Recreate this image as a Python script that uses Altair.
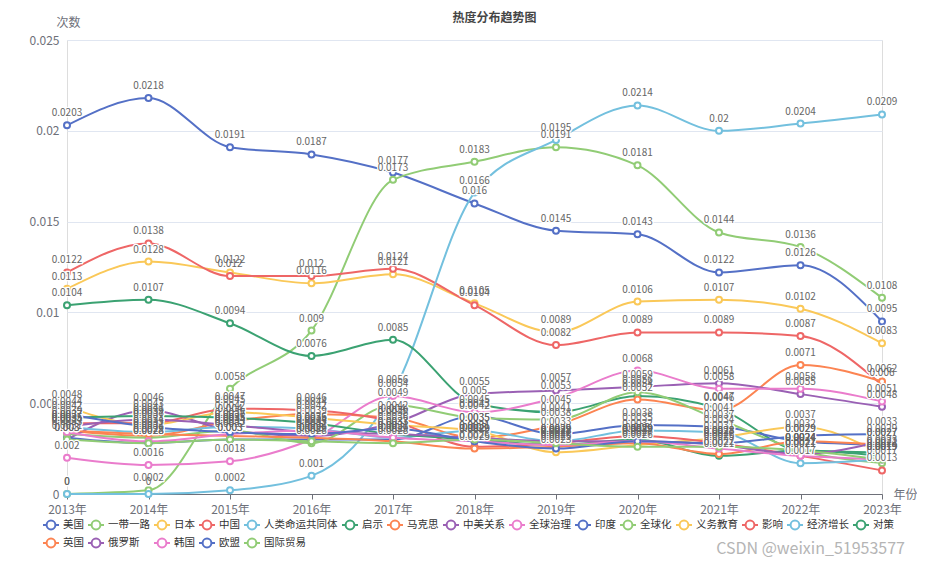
import altair as alt
import pandas as pd

FONT = "Noto Sans CJK SC"

years = ["2013年", "2014年", "2015年", "2016年", "2017年", "2018年",
         "2019年", "2020年", "2021年", "2022年", "2023年"]

series_names = ["美国", "一带一路", "日本", "中国", "人类命运共同体", "启示", "马克思",
                "中美关系", "全球治理", "印度", "全球化", "义务教育", "影响", "经济增长",
                "对策", "英国", "俄罗斯", "韩国", "欧盟", "国际贸易"]

palette = ["#5470c6", "#91cc75", "#fac858", "#ee6666", "#73c0de",
           "#3ba272", "#fc8452", "#9a60b4", "#ea7ccc"]
colors = [palette[i % len(palette)] for i in range(len(series_names))]

usa        = [0.0203, 0.0218, 0.0191, 0.0187, 0.0177, 0.0160, 0.0145, 0.0143, 0.0122, 0.0126, 0.0095]
belt_road  = [0.0, 0.0002, 0.0058, 0.0090, 0.0173, 0.0183, 0.0191, 0.0181, 0.0144, 0.0136, 0.0108]
japan      = [0.0113, 0.0128, 0.0122, 0.0116, 0.0121, 0.0105, 0.0089, 0.0106, 0.0107, 0.0102, 0.0083]
china      = [0.0122, 0.0138, 0.0120, 0.0120, 0.0124, 0.0104, 0.0082, 0.0089, 0.0089, 0.0087, 0.0060]
community  = [0.0, 0.0, 0.0002, 0.0010, 0.0056, 0.0166, 0.0195, 0.0214, 0.0200, 0.0204, 0.0209]
insight    = [0.0104, 0.0107, 0.0094, 0.0076, 0.0085, 0.0050, 0.0045, 0.0054, 0.0047, 0.0024, 0.0023]
marx       = [0.0035, 0.0032, 0.0040, 0.0044, 0.0042, 0.0031, 0.0038, 0.0052, 0.0046, 0.0071, 0.0062]
sino_us    = [0.0030, 0.0046, 0.0035, 0.0032, 0.0039, 0.0055, 0.0057, 0.0059, 0.0061, 0.0055, 0.0048]
governance = [0.0020, 0.0016, 0.0018, 0.0030, 0.0054, 0.0045, 0.0053, 0.0068, 0.0058, 0.0058, 0.0051]
india      = [0.0031, 0.0028, 0.0030, 0.0030, 0.0030, 0.0043, 0.0033, 0.0038, 0.0037, 0.0029, 0.0027]
globalize  = [0.0033, 0.0031, 0.0035, 0.0028, 0.0049, 0.0042, 0.0041, 0.0056, 0.0041, 0.0024, 0.0017]
education  = [0.0048, 0.0038, 0.0045, 0.0042, 0.0038, 0.0035, 0.0023, 0.0027, 0.0031, 0.0037, 0.0022]
influence  = [0.0039, 0.0039, 0.0047, 0.0046, 0.0040, 0.0026, 0.0028, 0.0032, 0.0028, 0.0021, 0.0013]
growth     = [0.0037, 0.0034, 0.0037, 0.0036, 0.0031, 0.0035, 0.0029, 0.0035, 0.0034, 0.0017, 0.0019]
measures   = [0.0042, 0.0043, 0.0042, 0.0039, 0.0033, 0.0030, 0.0027, 0.0030, 0.0021, 0.0024, 0.0021]
uk         = [0.0035, 0.0033, 0.0032, 0.0031, 0.0029, 0.0025, 0.0026, 0.0028, 0.0022, 0.0029, 0.0027]
russia     = [0.0037, 0.0041, 0.0038, 0.0034, 0.0033, 0.0031, 0.0029, 0.0029, 0.0027, 0.0022, 0.0029]
korea      = [0.0034, 0.0029, 0.0033, 0.0035, 0.0031, 0.0029, 0.0027, 0.0029, 0.0025, 0.0021, 0.0019]
eu         = [0.0044, 0.0037, 0.0034, 0.0033, 0.0036, 0.0029, 0.0025, 0.0029, 0.0028, 0.0032, 0.0033]
trade      = [0.0030, 0.0028, 0.0030, 0.0029, 0.0028, 0.0030, 0.0028, 0.0026, 0.0026, 0.0024, 0.0019]

all_values = [usa, belt_road, japan, china, community, insight, marx, sino_us,
              governance, india, globalize, education, influence, growth,
              measures, uk, russia, korea, eu, trade]

y_ticks = [0, 0.005, 0.01, 0.015, 0.02, 0.025]

rows = []
for idx, (name, vals) in enumerate(zip(series_names, all_values)):
    for yr, v in zip(years, vals):
        rows.append({"series": name, "year": yr, "value": v, "order": idx})
df = pd.DataFrame(rows)

x_enc = alt.X(
    "year:O", sort=years,
    scale=alt.Scale(type="point", padding=0),
    axis=alt.Axis(
        labelAngle=0, labelColor="#6E7079", labelFontSize=12, labelFont=FONT,
        labelPadding=5, tickColor="#6E7079", tickSize=5, domainColor="#6E7079",
        grid=False, title="年份", titleX=826, titleY=0, titleAlign="left",
        titleBaseline="middle", titleAngle=0, titleFontWeight="normal",
        titleColor="#6E7079", titleFontSize=12, titleFont=FONT,
    ),
)
y_enc = alt.Y(
    "value:Q",
    scale=alt.Scale(domain=[0, 0.025], nice=False, zero=True),
    axis=alt.Axis(
        values=y_ticks, format="~g", domain=False, ticks=False, labelPadding=8,
        labelColor="#6E7079", labelFontSize=12, labelFont=FONT,
        gridColor="#E0E6F1", title="次数", titleAngle=0, titleX=1, titleY=-18,
        titleAlign="center", titleBaseline="middle", titleFontWeight="normal",
        titleColor="#6E7079", titleFontSize=12, titleFont=FONT,
    ),
)
legend_symbol = "M-1,0L-0.55,0M0.55,0L1,0M0.55,0A0.55,0.55,0,1,1,-0.55,0A0.55,0.55,0,1,1,0.55,0"
color_enc = alt.Color(
    "series:N", sort=series_names,
    scale=alt.Scale(domain=series_names, range=colors),
    legend=alt.Legend(
        orient="none", legendX=-25, legendY=476, direction="horizontal",
        columns=15, gridAlign="none", title=None, symbolType=legend_symbol,
        symbolSize=256, symbolStrokeWidth=2, symbolFillColor="white",
        labelFont=FONT, labelFontSize=10.5, labelColor="#333333",
        labelOffset=3, columnPadding=0, rowPadding=0, padding=0,
    ),
)

lines = alt.Chart(df).mark_line(strokeWidth=2, interpolate="monotone").encode(
    x=x_enc, y=y_enc, color=color_enc, order="order:Q"
)
points = alt.Chart(df).mark_point(
    filled=False, fill="white", fillOpacity=1, size=36, strokeWidth=2, opacity=1
).encode(x=x_enc, y=y_enc, color=color_enc)

halo = alt.Chart(df).mark_text(
    dy=-12, fontSize=10, font=FONT, stroke="white", strokeWidth=2.5, fill="white"
).encode(x=x_enc, y=y_enc, text=alt.Text("value:Q", format=".4~f"))
labels = alt.Chart(df).mark_text(
    dy=-12, fontSize=10, font=FONT, fill="#666666"
).encode(x=x_enc, y=y_enc, text=alt.Text("value:Q", format=".4~f"))

watermark = alt.Chart(pd.DataFrame({"t": ["CSDN @weixin_51953577"]})).mark_text(
    font=FONT, fontSize=16, color="#b5b5b5", align="right", baseline="middle"
).encode(x=alt.value(838), y=alt.value(509), text="t:N")

chart = alt.layer(lines, points, halo, labels, watermark).properties(
    width=815, height=454,
    padding={"left": 59, "top": 32, "right": 35, "bottom": 66},
    autosize="none",
    title=alt.TitleParams(
        "热度分布趋势图", font=FONT, fontSize=12, fontWeight="bold",
        color="#464646", anchor="middle", dx=20, offset=-9,
    ),
).configure_view(stroke=None).configure(background="white")

chart.save("out.html", embed_options={"renderer": "svg", "actions": False})
